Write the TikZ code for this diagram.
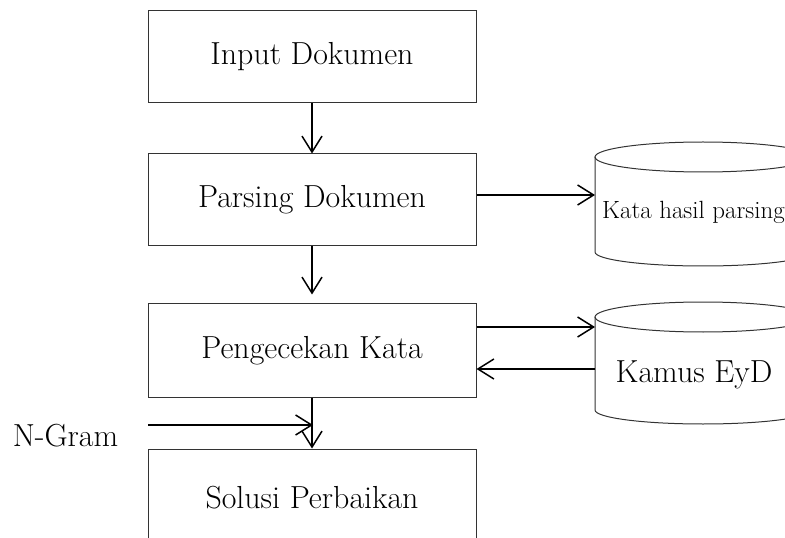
\documentclass[tikz,border=0pt]{standalone}
\usetikzlibrary{arrows.meta}
\begin{document}
\begin{tikzpicture}[x=1bp,y=-1bp,
  box/.style={draw=black!80,line width=1bp,minimum width=328bp,inner sep=0pt,font=\fontsize{32}{38}\selectfont},
  arr/.style={line width=1.5bp,-{Straight Barb[length=16bp,width=20bp,line width=1.5bp]}},
  cyl/.style={draw=black!80,line width=1bp},
  lbl/.style={inner sep=0pt,font=\fontsize{32}{38}\selectfont}]
\useasboundingbox (0,0) rectangle (785,538);
% boxes
\node[box,minimum height=92bp] (b1) at (312,57) {Input Dokumen};
\node[box,minimum height=92bp] (b2) at (312,200) {Parsing Dokumen};
\node[box,minimum height=93bp] (b3) at (312,350.5) {Pengecekan Kata};
\node[box,minimum height=98bp] (b4) at (312,498) {Solusi Perbaikan};
% cylinder 1
\draw[cyl] (703,157) ellipse [x radius=108bp,y radius=15bp];
\draw[cyl] (811,157) -- (811,252) arc[start angle=360,end angle=180,x radius=108bp,y radius=14bp] -- (595,157);
\node[lbl,anchor=west,font=\fontsize{25}{30}\selectfont] (c1) at (602,212) {Kata hasil parsing};
\coordinate (c1w) at (595,195);
% cylinder 2
\draw[cyl] (703,317) ellipse [x radius=108bp,y radius=15bp];
\draw[cyl] (811,317) -- (811,410) arc[start angle=360,end angle=180,x radius=108bp,y radius=14bp] -- (595,317);
\node[lbl] (c2) at (694,375) {Kamus EyD};
\coordinate (c2a) at (595,327);
\coordinate (c2b) at (595,369);
% N-Gram
\node[lbl] (ng) at (65.5,436) {N-Gram};
\coordinate (ngs) at (148,425);
\coordinate (ngt) at (313,425);
% arrows
\draw[arr] (b1.south) -- (b2.north);
\draw[arr] (b2.south) -- ([yshift=9bp]b3.north);
\draw[arr] (b3.south) -- (b4.north);
\draw[arr] (b2.east |- c1w) -- (c1w);
\draw[arr] (b3.east |- c2a) -- (c2a);
\draw[arr] (c2b) -- (b3.east |- c2b);
\draw[arr] (ngs) -- (ngt);
\end{tikzpicture}
\end{document}
